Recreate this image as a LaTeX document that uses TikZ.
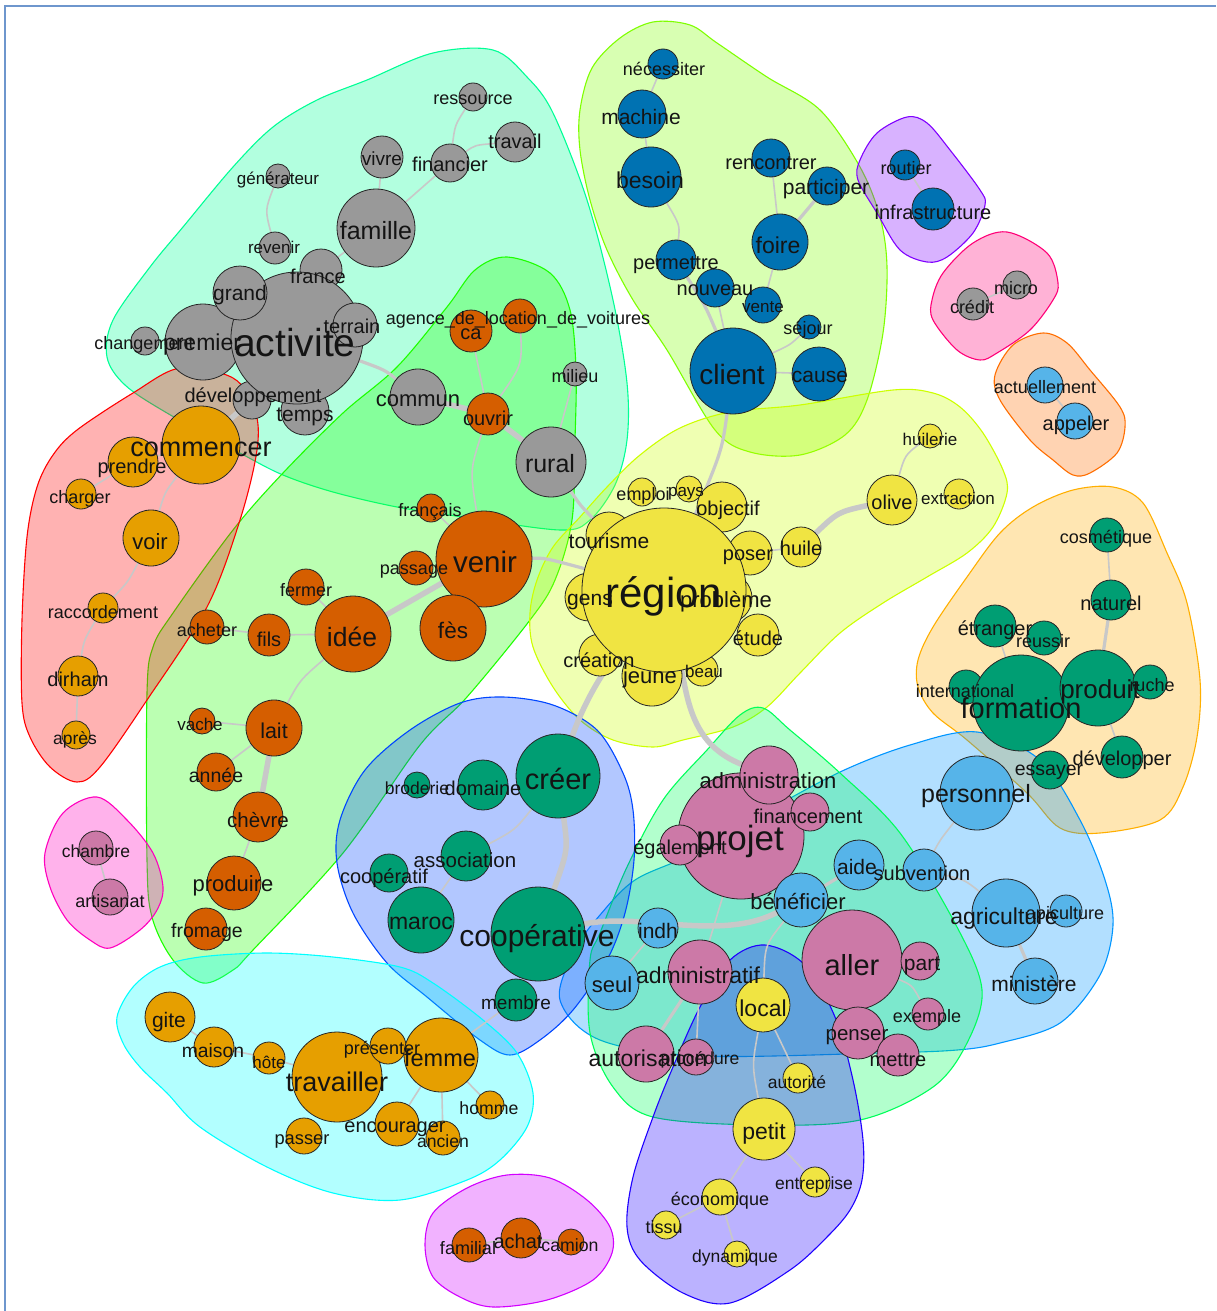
\documentclass[tikz,border=0pt]{standalone}
\usepackage{fontspec}
\setmainfont{Liberation Sans}
% vertex palette
\definecolor{cG}{RGB}{153,153,153}
\definecolor{cB}{RGB}{0,114,178}
\definecolor{cO}{RGB}{213,94,0}
\definecolor{cY}{RGB}{240,228,66}
\definecolor{cGr}{RGB}{0,158,115}
\definecolor{cLB}{RGB}{86,180,233}
\definecolor{cP}{RGB}{204,121,167}
\definecolor{cA}{RGB}{230,159,0}
% community hull colours
\definecolor{hAqua}{RGB}{0,255,150}
\definecolor{hChart}{RGB}{127,255,0}
\definecolor{hPurple}{RGB}{128,0,255}
\definecolor{hPink}{RGB}{255,0,120}
\definecolor{hOrange}{RGB}{255,110,0}
\definecolor{hYellow}{RGB}{205,255,0}
\definecolor{hGold}{RGB}{255,175,0}
\definecolor{hSky}{RGB}{0,150,255}
\definecolor{hSpring}{RGB}{0,255,90}
\definecolor{hViolet}{RGB}{30,0,255}
\definecolor{hBlue}{RGB}{0,70,255}
\definecolor{hCyan}{RGB}{0,255,255}
\definecolor{hMagenta}{RGB}{210,0,255}
\definecolor{hRose}{RGB}{255,0,190}
\definecolor{hRed}{RGB}{255,0,0}
\definecolor{hLime}{RGB}{30,255,0}
\definecolor{edgecol}{RGB}{200,200,200}
\definecolor{framecol}{RGB}{110,150,205}
\pgfdeclarelayer{hulls}
\pgfdeclarelayer{edges}
\pgfsetlayers{hulls,edges,main}
% word vertex: name, x, y, radius, colour
\newcommand{\wnode}[5]{\node[wn, fill=#5, minimum size={2*#4}] (#1) at (#2,#3) {};}
% word label: name, x, y, size, text
\newcommand{\wlab}[5]{\node[lab, anchor=base, font=\fontsize{#4}{#4}\selectfont] (#1-t) at ({#2},{#3+0.358*#4}) {#5};}
% community hull: colour, points
\newcommand{\grouphull}[2]{\filldraw[hullline, fill=#1, draw=#1] plot[smooth cycle, tension=0.55] coordinates {#2};}
\begin{document}
\begin{tikzpicture}[x=1pt, y=-1pt,
  wn/.style={circle, draw=black!85, line width=0.8pt, inner sep=0pt, outer sep=0pt},
  lab/.style={inner sep=0pt, text=black!92},
  hullline/.style={fill opacity=0.3, draw opacity=1, line width=1.1pt},
  ed/.style={draw=edgecol, line width=1.6pt},
  edm/.style={draw=edgecol, line width=3.2pt},
  edt/.style={draw=edgecol, line width=5.5pt}]
\useasboundingbox (0,0) rectangle (1216,1311);

\begin{pgfonlayer}{hulls}
\fill[white] (0,0) rectangle (1216,1311);
\draw[framecol, line width=2pt] (5,1311) -- (5,6) -- (1216,6);
\grouphull{hAqua}{(107,357) (113,320) (150,267) (183,227) (233,167) (273,127) (317,100) (367,80) (433,53) (493,50) (527,77) (553,113) (587,200) (613,300) (627,383) (627,440) (615,485) (590,520) (560,530) (463,517) (397,507) (333,492) (283,475) (240,453) (167,413) (125,385)}
\grouphull{hChart}{(580,110) (592,68) (620,38) (653,22) (690,25) (717,43) (767,77) (820,110) (860,167) (880,217) (887,267) (883,333) (867,400) (845,435) (800,455) (750,452) (715,430) (667,350) (633,300) (607,250) (590,200) (580,150)}
\grouphull{hPurple}{(907,117) (927,123) (950,150) (980,190) (985,205) (973,233) (947,257) (927,262) (900,250) (877,213) (858,180) (860,160) (877,133)}
\grouphull{hPink}{(1007,232) (1047,253) (1058,283) (1053,300) (1030,330) (997,353) (980,360) (957,350) (933,320) (932,300) (943,273) (973,243)}
\grouphull{hOrange}{(1043,333) (1067,343) (1090,370) (1120,407) (1125,427) (1117,453) (1090,473) (1073,475) (1053,460) (1030,440) (1000,400) (995,375) (1013,345)}
\grouphull{hLime}{(507,257) (550,273) (570,310) (576,370) (575,440) (572,520) (555,580) (530,620) (467,697) (420,745) (343,853) (253,950) (233,970) (203,983) (173,960) (152,917) (147,860) (147,693) (153,647) (173,613) (233,530) (283,473) (343,413) (397,367) (447,307) (475,270)}
\grouphull{hRed}{(77,430) (133,393) (180,368) (233,378) (255,410) (257,450) (240,520) (207,607) (147,700) (100,767) (77,782) (50,767) (30,737) (22,703) (22,620) (27,537) (37,487) (53,455)}
\grouphull{hYellow}{(580,517) (607,487) (640,455) (680,428) (730,412) (800,405) (893,390) (933,393) (960,407) (983,433) (1003,470) (1007,493) (993,527) (967,553) (927,577) (883,603) (840,633) (800,673) (767,707) (733,727) (683,740) (653,747) (613,740) (580,720) (553,687) (533,647) (530,613) (537,580) (553,547)}
\grouphull{hGold}{(1033,507) (1073,490) (1113,487) (1143,503) (1167,553) (1187,603) (1200,680) (1197,737) (1183,787) (1160,820) (1100,833) (1060,828) (1027,793) (967,740) (933,713) (918,687) (918,660) (933,627) (967,577) (1000,533)}
\grouphull{hSky}{(560,1000) (575,950) (600,915) (635,880) (690,855) (760,815) (840,772) (910,745) (977,732) (1040,760) (1080,820) (1105,880) (1113,925) (1100,975) (1060,1023) (1000,1043) (957,1050) (880,1053) (700,1056) (600,1040)}
\grouphull{hSpring}{(763,708) (790,730) (840,773) (900,833) (957,927) (982,990) (967,1043) (933,1087) (860,1120) (760,1125) (653,1117) (613,1087) (590,1033) (590,960) (600,933) (627,867) (663,800) (707,750) (740,715)}
\grouphull{hViolet}{(765,945) (805,965) (835,1017) (853,1080) (863,1140) (862,1180) (850,1210) (827,1237) (790,1270) (730,1303) (683,1293) (640,1260) (627,1227) (633,1177) (653,1117) (673,1067) (700,1007) (730,960)}
\grouphull{hBlue}{(410,730) (460,703) (503,697) (553,705) (597,730) (623,773) (633,810) (634,860) (625,913) (607,960) (573,1010) (540,1040) (510,1055) (480,1040) (427,997) (387,963) (353,913) (337,863) (340,820) (365,770)}
\grouphull{hCyan}{(117,1017) (133,987) (160,967) (200,957) (267,953) (333,957) (400,967) (433,983) (483,1020) (517,1053) (533,1093) (527,1127) (500,1160) (467,1180) (400,1200) (333,1193) (267,1167) (200,1127) (167,1093) (140,1067) (123,1043)}
\grouphull{hMagenta}{(425,1245) (433,1213) (467,1188) (507,1175) (550,1178) (587,1200) (610,1227) (612,1253) (593,1280) (547,1300) (493,1307) (460,1297) (433,1277)}
\grouphull{hRose}{(97,797) (127,820) (153,853) (163,887) (157,910) (140,930) (110,948) (90,940) (67,920) (50,887) (45,853) (63,813)}
\end{pgfonlayer}

% ---------- vertices ----------
% grey community
\wnode{ressource}{473}{97}{14}{cG}
\wnode{travail}{515}{142}{20}{cG}
\wnode{financier}{450}{163}{19}{cG}
\wnode{vivre}{382}{157}{21}{cG}
\wnode{generateur}{278}{176}{12}{cG}
\wnode{famille}{376}{228}{39}{cG}
\wnode{revenir}{275}{248}{16}{cG}
\wnode{france}{321}{270}{21}{cG}
\wnode{premier}{203}{342}{38}{cG}
\wnode{changement}{145}{341}{14}{cG}
\wnode{developpement}{252}{400}{19}{cG}
\wnode{temps}{305}{411}{24}{cG}
\wnode{activite}{297}{338}{66}{cG}
\wnode{grand}{240}{293}{27}{cG}
\wnode{terrain}{355}{325}{22}{cG}
\wnode{commun}{418}{397}{28}{cG}
\wnode{rural}{551}{462}{35}{cG}
\wnode{milieu}{575}{374}{12}{cG}
\wnode{credit}{973}{304}{16}{cG}
\wnode{micro}{1017}{285}{14}{cG}
% dark blue community
\wnode{necessiter}{663}{64}{15}{cB}
\wnode{machine}{642}{114}{24}{cB}
\wnode{besoin}{651}{177}{30}{cB}
\wnode{rencontrer}{771}{158}{19}{cB}
\wnode{participer}{827}{186}{19}{cB}
\wnode{foire}{780}{242}{28}{cB}
\wnode{permettre}{676}{260}{20}{cB}
\wnode{nouveau}{715}{288}{19}{cB}
\wnode{vente}{763}{305}{18}{cB}
\wnode{sejour}{809}{327}{12}{cB}
\wnode{client}{733}{371}{43}{cB}
\wnode{cause}{819}{374}{27}{cB}
\wnode{routier}{905}{165}{15}{cB}
\wnode{infrastructure}{933}{209}{21}{cB}
% light blue community
\wnode{actuellement}{1045}{385}{18}{cLB}
\wnode{appeler}{1075}{421}{18}{cLB}
\wnode{personnel}{977}{793}{37}{cLB}
\wnode{aide}{859}{865}{25}{cLB}
\wnode{subvention}{924}{870}{21}{cLB}
\wnode{indh}{658}{928}{20}{cLB}
\wnode{seul}{612}{983}{27}{cLB}
\wnode{agriculture}{1006}{913}{34}{cLB}
\wnode{apiculture}{1066}{911}{16}{cLB}
\wnode{ministere}{1035}{981}{23}{cLB}
% yellow community
\wnode{emploi}{642}{492}{14}{cY}
\wnode{pays}{689}{489}{13}{cY}
\wnode{objectif}{722}{507}{25}{cY}
\wnode{tourisme}{609}{535}{23}{cY}
\wnode{gens}{589}{597}{24}{cY}
\wnode{poser}{750}{553}{22}{cY}
\wnode{probleme}{727}{598}{25}{cY}
\wnode{etude}{758}{635}{21}{cY}
\wnode{creation}{600}{655}{21}{cY}
\wnode{jeune}{652}{676}{30}{cY}
\wnode{beau}{702}{670}{16}{cY}
\wnode{region}{664}{590}{82}{cY}
\wnode{huile}{801}{547}{20}{cY}
\wnode{huilerie}{930}{436}{12}{cY}
\wnode{olive}{892}{500}{25}{cY}
\wnode{extraction}{959}{494}{15}{cY}
% green community (formation)
\wnode{cosmetique}{1107}{535}{17}{cGr}
\wnode{naturel}{1111}{600}{20}{cGr}
\wnode{etranger}{995}{626}{21}{cGr}
\wnode{reussir}{1044}{638}{17}{cGr}
\wnode{international}{966}{687}{17}{cGr}
\wnode{formation}{1021}{703}{48}{cGr}
\wnode{produit}{1098}{688}{38}{cGr}
\wnode{ruche}{1150}{682}{17}{cGr}
\wnode{essayer}{1050}{770}{19}{cGr}
\wnode{developper}{1122}{757}{21}{cGr}
% green community (cooperative)
\wnode{creer}{558}{776}{42}{cGr}
\wnode{domaine}{483}{785}{25}{cGr}
\wnode{broderie}{417}{785}{13}{cGr}
\wnode{association}{466}{856}{25}{cGr}
\wnode{cooperatif}{389}{873}{19}{cGr}
\wnode{maroc}{421}{920}{33}{cGr}
\wnode{cooperative}{538}{934}{47}{cGr}
\wnode{membre}{516}{1000}{21}{cGr}
% pink community
\wnode{projet}{741}{836}{63}{cP}
\wnode{administration}{769}{775}{29}{cP}
\wnode{financement}{810}{812}{19}{cP}
\wnode{egalement}{680}{845}{20}{cP}
\wnode{beneficier}{801}{900}{27}{cLB}
\wnode{aller}{852}{960}{50}{cP}
\wnode{part}{920}{961}{19}{cP}
\wnode{exemple}{928}{1014}{16}{cP}
\wnode{penser}{858}{1033}{26}{cP}
\wnode{mettre}{898}{1055}{21}{cP}
\wnode{administratif}{700}{972}{32}{cP}
\wnode{autorisation}{646}{1054}{28}{cP}
\wnode{procedure}{696}{1057}{18}{cP}
\wnode{chambre}{96}{848}{17}{cP}
\wnode{artisanat}{110}{897}{18}{cP}
% yellow community (petit)
\wnode{local}{763}{1005}{27}{cY}
\wnode{autorite}{798}{1078}{15}{cY}
\wnode{petit}{764}{1129}{31}{cY}
\wnode{entreprise}{815}{1182}{15}{cY}
\wnode{economique}{720}{1197}{18}{cY}
\wnode{tissu}{666}{1225}{14}{cY}
\wnode{dynamique}{737}{1254}{13}{cY}
% orange community
\wnode{ca}{471}{331}{21}{cO}
\wnode{agence}{520}{316}{17}{cO}
\wnode{ouvrir}{488}{414}{21}{cO}
\wnode{francais}{431}{508}{14}{cO}
\wnode{venir}{484}{559}{48}{cO}
\wnode{passage}{416}{568}{17}{cO}
\wnode{fes}{453}{628}{33}{cO}
\wnode{fermer}{306}{587}{18}{cO}
\wnode{idee}{353}{634}{38}{cO}
\wnode{fils}{269}{635}{21}{cO}
\wnode{acheter}{207}{627}{17}{cO}
\wnode{vache}{202}{721}{13}{cO}
\wnode{lait}{274}{728}{28}{cO}
\wnode{annee}{216}{772}{19}{cO}
\wnode{chevre}{258}{817}{25}{cO}
\wnode{produire}{234}{883}{27}{cO}
\wnode{fromage}{206}{929}{21}{cO}
\wnode{familial}{469}{1245}{17}{cO}
\wnode{achat}{521}{1238}{20}{cO}
\wnode{camion}{571}{1242}{13}{cO}
% amber community
\wnode{commencer}{201}{445}{39}{cA}
\wnode{prendre}{133}{462}{25}{cA}
\wnode{charger}{81}{494}{15}{cA}
\wnode{voir}{151}{538}{28}{cA}
\wnode{raccordement}{103}{608}{15}{cA}
\wnode{dirham}{78}{676}{20}{cA}
\wnode{apres}{76}{735}{14}{cA}
\wnode{gite}{170}{1017}{25}{cA}
\wnode{maison}{214}{1047}{20}{cA}
\wnode{hote}{269}{1058}{16}{cA}
\wnode{travailler}{337}{1077}{45}{cA}
\wnode{presenter}{388}{1046}{18}{cA}
\wnode{femme}{441}{1055}{37}{cA}
\wnode{encourager}{397}{1124}{22}{cA}
\wnode{passer}{304}{1136}{18}{cA}
\wnode{homme}{490}{1105}{14}{cA}
\wnode{ancien}{443}{1138}{17}{cA}

% ---------- edges, kept under the vertices ----------
\begin{pgfonlayer}{edges}
\draw[ed] (ressource) .. controls (455,125) .. (financier);
\draw[ed] (financier) .. controls (475,145) .. (travail);
\draw[ed] (vivre) -- (famille);
\draw[ed] (financier) -- (famille);
\draw[ed] (generateur) .. controls (265,210) .. (revenir);
\draw[ed] (famille) -- (france);
\draw[edm] (activite) .. controls (385,370) .. (commun);
\draw[edt] (commun) -- (ouvrir);
\draw[edt] (ouvrir) -- (rural);
\draw[ed] (milieu) -- (rural);
\draw[edm] (rural) .. controls (580,505) .. (tourisme);
\draw[edt] (developpement) -- (commencer);
\draw[ed] (credit) -- (micro);
\draw[ed] (necessiter) -- (machine);
\draw[ed] (machine) -- (besoin);
\draw[ed] (besoin) .. controls (680,225) .. (permettre);
\draw[ed] (rencontrer) -- (foire);
\draw[edm] (participer) -- (foire);
\draw[ed] (foire) -- (vente);
\draw[edm] (permettre) .. controls (705,305) .. (client);
\draw[ed] (nouveau) -- (client);
\draw[ed] (sejour) .. controls (790,345) .. (client);
\draw[ed] (client) -- (cause);
\draw[edm] (client) .. controls (722,450) .. (region);
\draw[ed] (routier) -- (infrastructure);
\draw[ed] (actuellement) -- (appeler);
\draw[edm] (venir) .. controls (545,558) .. (region);
\draw[edt] (huile) .. controls (838,512) .. (olive);
\draw[ed] (olive) .. controls (905,455) .. (huilerie);
\draw[ed] (poser) -- (huile);
\draw[edt] (region) .. controls (590,690) and (578,720) .. (creer);
\draw[edt] (region) .. controls (688,700) and (692,745) .. (administration);
\draw[ed] (cosmetique) -- (naturel);
\draw[edm] (naturel) -- (produit);
\draw[ed] (etranger) -- (formation);
\draw[ed] (produit) -- (developper);
\draw[ed] (personnel) .. controls (940,840) .. (subvention);
\draw[ed] (subvention) .. controls (965,880) .. (agriculture);
\draw[edm] (agriculture) -- (ministere);
\draw[edm] (aide) -- (beneficier);
\draw[edt] (cooperative) .. controls (640,912) and (720,942) .. (beneficier);
\draw[ed] (indh) -- (seul);
\draw[ed] (projet) -- (administratif);
\draw[ed] (beneficier) .. controls (765,945) .. (local);
\draw[edm] (administratif) -- (autorisation);
\draw[ed] (administratif) -- (procedure);
\draw[ed] (aller) .. controls (912,985) .. (exemple);
\draw[ed] (local) .. controls (752,1065) .. (petit);
\draw[ed] (local) -- (autorite);
\draw[ed] (petit) -- (economique);
\draw[ed] (economique) -- (tissu);
\draw[ed] (economique) -- (dynamique);
\draw[ed] (petit) -- (entreprise);
\draw[edt] (creer) .. controls (568,850) .. (cooperative);
\draw[ed] (creer) .. controls (515,830) .. (association);
\draw[ed] (association) -- (maroc);
\draw[ed] (cooperative) -- (membre);
\draw[ed] (membre) -- (femme);
\draw[ed] (agence) .. controls (522,365) .. (ouvrir);
\draw[ed] (ca) -- (ouvrir);
\draw[ed] (ouvrir) .. controls (470,470) .. (venir);
\draw[ed] (francais) -- (venir);
\draw[edt] (idee) -- (venir);
\draw[ed] (idee) -- (fermer);
\draw[ed] (idee) -- (fils);
\draw[ed] (fils) -- (acheter);
\draw[ed] (idee) .. controls (300,680) .. (lait);
\draw[ed] (lait) -- (vache);
\draw[ed] (lait) -- (annee);
\draw[edt] (lait) -- (chevre);
\draw[ed] (chevre) -- (produire);
\draw[ed] (commencer) -- (prendre);
\draw[ed] (prendre) -- (charger);
\draw[ed] (commencer) .. controls (165,492) .. (voir);
\draw[ed] (voir) .. controls (128,582) .. (raccordement);
\draw[ed] (raccordement) .. controls (84,640) .. (dirham);
\draw[ed] (dirham) -- (apres);
\draw[ed] (gite) -- (maison);
\draw[ed] (maison) -- (hote);
\draw[ed] (hote) -- (travailler);
\draw[ed] (travailler) -- (presenter);
\draw[ed] (femme) -- (homme);
\draw[ed] (femme) -- (encourager);
\draw[ed] (femme) -- (ancien);
\draw[ed] (familial) -- (achat);
\draw[ed] (achat) -- (camion);
\draw[ed] (chambre) -- (artisanat);
\end{pgfonlayer}

% ---------- labels ----------
\wlab{ressource}{473}{98}{18}{ressource}
\wlab{travail}{515}{141}{20}{travail}
\wlab{financier}{450}{164}{20}{financier}
\wlab{vivre}{382}{159}{19}{vivre}
\wlab{generateur}{278}{178}{17}{générateur}
\wlab{famille}{376}{231}{25}{famille}
\wlab{revenir}{274}{247}{17}{revenir}
\wlab{france}{318}{276}{20}{france}
\wlab{grand}{240}{293}{21}{grand}
\wlab{activite}{295}{343}{39}{activite}
\wlab{premier}{202}{342}{23}{premier}
\wlab{changement}{144}{343}{18}{changement}
\wlab{terrain}{352}{326}{20}{terrain}
\wlab{developpement}{253}{395}{20}{développement}
\wlab{temps}{305}{414}{21}{temps}
\wlab{commun}{418}{399}{22}{commun}
\wlab{rural}{550}{464}{25}{rural}
\wlab{milieu}{575}{376}{18}{milieu}
\wlab{credit}{972}{307}{18}{crédit}
\wlab{micro}{1016}{288}{18}{micro}
\wlab{necessiter}{664}{69}{18}{nécessiter}
\wlab{machine}{641}{117}{21}{machine}
\wlab{besoin}{650}{180}{23}{besoin}
\wlab{rencontrer}{771}{162}{20}{rencontrer}
\wlab{participer}{826}{187}{21}{participer}
\wlab{foire}{778}{245}{23}{foire}
\wlab{permettre}{676}{262}{20}{permettre}
\wlab{nouveau}{715}{288}{20}{nouveau}
\wlab{vente}{763}{306}{17}{vente}
\wlab{sejour}{808}{328}{18}{séjour}
\wlab{client}{732}{374}{28}{client}
\wlab{cause}{820}{375}{21}{cause}
\wlab{routier}{906}{168}{18}{routier}
\wlab{infrastructure}{933}{212}{20}{infrastructure}
\wlab{actuellement}{1045}{387}{18}{actuellement}
\wlab{appeler}{1076}{423}{20}{appeler}
\wlab{personnel}{976}{794}{25}{personnel}
\wlab{aide}{857}{867}{21}{aide}
\wlab{subvention}{922}{873}{20}{subvention}
\wlab{beneficier}{798}{902}{22}{bénéficier}
\wlab{indh}{658}{931}{21}{indh}
\wlab{seul}{612}{985}{22}{seul}
\wlab{agriculture}{1004}{916}{23}{agriculture}
\wlab{apiculture}{1065}{913}{18}{apiculture}
\wlab{ministere}{1034}{984}{21}{ministère}
\wlab{region}{664}{592}{42}{région}
\wlab{emploi}{643}{494}{18}{emploi}
\wlab{pays}{686}{490}{17}{pays}
\wlab{objectif}{728}{508}{20}{objectif}
\wlab{tourisme}{609}{541}{21}{tourisme}
\wlab{gens}{590}{598}{21}{gens}
\wlab{poser}{748}{553}{20}{poser}
\wlab{huile}{801}{548}{20}{huile}
\wlab{probleme}{726}{600}{22}{problème}
\wlab{etude}{758}{638}{20}{étude}
\wlab{creation}{599}{660}{20}{création}
\wlab{jeune}{650}{676}{22}{jeune}
\wlab{beau}{704}{671}{17}{beau}
\wlab{huilerie}{930}{439}{17}{huilerie}
\wlab{olive}{892}{502}{20}{olive}
\wlab{extraction}{958}{498}{17}{extraction}
\wlab{local}{763}{1008}{23}{local}
\wlab{autorite}{797}{1082}{17.5}{autorité}
\wlab{petit}{764}{1131}{23}{petit}
\wlab{entreprise}{814}{1183}{17.5}{entreprise}
\wlab{economique}{720}{1199}{18}{économique}
\wlab{tissu}{664}{1227}{18}{tissu}
\wlab{dynamique}{735}{1256}{17.5}{dynamique}
\wlab{cosmetique}{1106}{537}{18}{cosmétique}
\wlab{naturel}{1111}{603}{20}{naturel}
\wlab{etranger}{995}{628}{20}{étranger}
\wlab{reussir}{1043}{641}{18}{réussir}
\wlab{international}{965}{691}{18}{international}
\wlab{formation}{1021}{708}{29}{formation}
\wlab{produit}{1100}{689}{26}{produit}
\wlab{ruche}{1152}{685}{18}{ruche}
\wlab{essayer}{1049}{769}{19.5}{essayer}
\wlab{developper}{1122}{758}{20}{développer}
\wlab{creer}{558}{779}{29}{créer}
\wlab{domaine}{483}{788}{20}{domaine}
\wlab{broderie}{417}{788}{17.5}{broderie}
\wlab{association}{465}{860}{20.5}{association}
\wlab{cooperatif}{384}{876}{20}{coopératif}
\wlab{maroc}{421}{921}{23}{maroc}
\wlab{cooperative}{537}{936}{30}{coopérative}
\wlab{membre}{516}{1003}{19}{membre}
\wlab{projet}{740}{838}{35}{projet}
\wlab{administration}{768}{781}{22}{administration}
\wlab{financement}{808}{816}{20}{financement}
\wlab{egalement}{680}{847}{20}{également}
\wlab{aller}{852}{965}{29}{aller}
\wlab{part}{922}{963}{21}{part}
\wlab{exemple}{927}{1016}{18}{exemple}
\wlab{penser}{857}{1033}{20.5}{penser}
\wlab{mettre}{898}{1059}{20}{mettre}
\wlab{administratif}{698}{975}{23}{administratif}
\wlab{autorisation}{648}{1058}{23}{autorisation}
\wlab{procedure}{700}{1058}{17.5}{procédure}
\wlab{chambre}{96}{851}{17.5}{chambre}
\wlab{artisanat}{110}{901}{18}{artisanat}
\wlab{ca}{471}{332}{20}{ca}
\wlab{agence}{518}{318}{18}{agence\_de\_location\_de\_voitures}
\wlab{ouvrir}{488}{418}{20}{ouvrir}
\wlab{francais}{430}{510}{18}{français}
\wlab{venir}{485}{562}{29.5}{venir}
\wlab{passage}{414}{568}{18}{passage}
\wlab{fes}{453}{630}{22.5}{fès}
\wlab{fermer}{306}{590}{18}{fermer}
\wlab{idee}{352}{637}{26.5}{idée}
\wlab{fils}{269}{639}{20}{fils}
\wlab{acheter}{207}{630}{18}{acheter}
\wlab{vache}{200}{724}{17}{vache}
\wlab{lait}{274}{731}{21.5}{lait}
\wlab{annee}{216}{776}{19.5}{année}
\wlab{chevre}{258}{820}{20.5}{chèvre}
\wlab{produire}{233}{884}{22}{produire}
\wlab{fromage}{207}{931}{19.5}{fromage}
\wlab{familial}{468}{1248}{18}{familial}
\wlab{achat}{518}{1241}{20}{achat}
\wlab{camion}{570}{1245}{17.7}{camion}
\wlab{commencer}{201}{447}{27}{commencer}
\wlab{prendre}{132}{466}{20}{prendre}
\wlab{charger}{80}{497}{18}{charger}
\wlab{voir}{150}{542}{22}{voir}
\wlab{raccordement}{103}{612}{18}{raccordement}
\wlab{dirham}{78}{679}{20}{dirham}
\wlab{apres}{75}{738}{17.5}{après}
\wlab{gite}{169}{1020}{21}{gite}
\wlab{maison}{213}{1051}{19.3}{maison}
\wlab{hote}{269}{1062}{17}{hôte}
\wlab{travailler}{337}{1082}{27}{travailler}
\wlab{presenter}{382}{1048}{18}{présenter}
\wlab{femme}{440}{1058}{23.5}{femme}
\wlab{encourager}{395}{1125}{20}{encourager}
\wlab{passer}{302}{1138}{18.3}{passer}
\wlab{homme}{489}{1108}{17.7}{homme}
\wlab{ancien}{443}{1141}{17.6}{ancien}
\end{tikzpicture}
\end{document}
